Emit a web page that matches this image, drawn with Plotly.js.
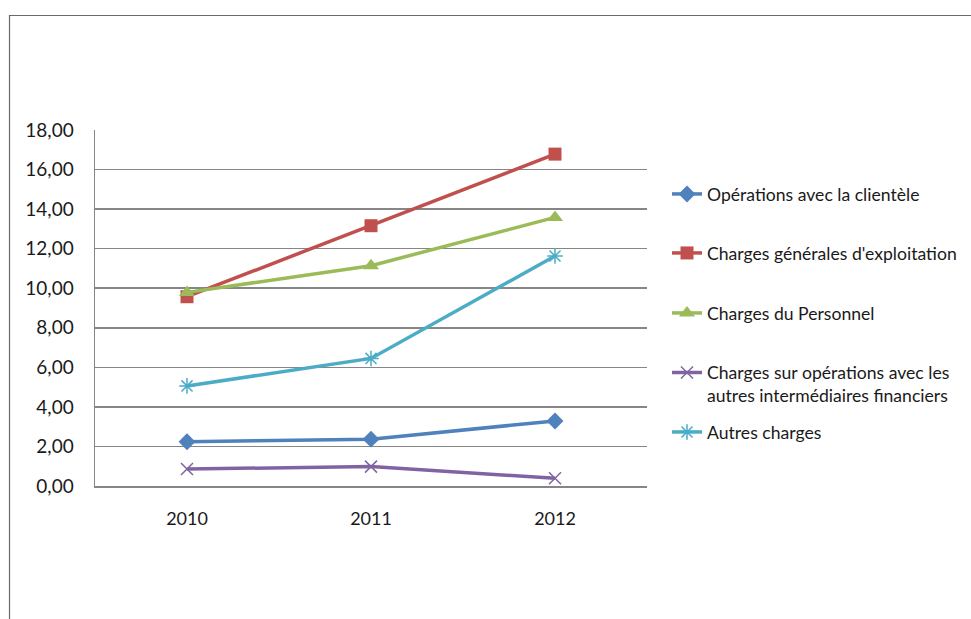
<!DOCTYPE html>
<html><head><meta charset="utf-8">
<script src="https://cdn.plot.ly/plotly-3.0.1.min.js"></script>
<style>html,body{margin:0;padding:0;background:#fff;}#chart{width:971px;height:619px;}</style>
</head><body><div id="chart"></div>
<script>
var years = ['2010', '2011', '2012'];
var seriesNames = [
  'Opérations avec la clientèle',
  "Charges générales d'exploitation",
  'Charges du Personnel',
  'Charges sur opérations avec les<br>autres intermédiaires financiers',
  'Autres charges'
];
var operationsClientele = [2.24, 2.37, 3.29];
var chargesGenerales = [9.57, 13.16, 16.78];
var chargesPersonnel = [9.79, 11.14, 13.58];
var chargesIntermediaires = [0.86, 0.98, 0.39];
var autresCharges = [5.06, 6.45, 11.63];
var yTicks = [0, 2, 4, 6, 8, 10, 12, 14, 16, 18];

var values = [operationsClientele, chargesGenerales, chargesPersonnel, chargesIntermediaires, autresCharges];
var colors = ['#4F81BD', '#C0504D', '#9BBB59', '#8064A2', '#4BACC6'];
var symbols = ['diamond', 'square', 'triangle-up', 'x-thin-open', 'asterisk-open'];
var sizes = [13, 13, 14, 12, 13];
var legendIds = ['legend', 'legend2', 'legend3', 'legend4', 'legend5'];

var traces = values.map(function (v, i) {
  var open = (symbols[i].indexOf('open') >= 0);
  return {
    type: 'scatter', mode: 'lines+markers',
    x: years, y: v, name: seriesNames[i],
    legend: legendIds[i],
    line: {color: colors[i], width: 3.5},
    marker: {symbol: symbols[i], size: sizes[i], color: colors[i],
             line: {color: colors[i], width: open ? 1.5 : 0}},
    hoverinfo: 'x+y'
  };
});

var legendFont = {family: 'Lato, "Open Sans", sans-serif', size: 17.6, color: '#1a1a1a'};
function leg(yCenter, valign) {
  return {x: 667 / 971, xref: 'container', xanchor: 'left',
          y: 1 - yCenter / 619, yref: 'container', yanchor: 'middle',
          font: legendFont, bgcolor: 'rgba(0,0,0,0)', borderwidth: 0,
          valign: valign || 'middle'};
}

var layout = {
  width: 971, height: 619,
  margin: {l: 95, r: 324, t: 130, b: 133},
  paper_bgcolor: '#ffffff', plot_bgcolor: '#ffffff',
  separators: ',.',
  showlegend: true,
  legend: leg(194), legend2: leg(253), legend3: leg(313),
  legend4: leg(384, 'top'), legend5: leg(432),
  xaxis: {
    type: 'category', range: [-0.5, 2.5], fixedrange: true,
    showline: true, linecolor: '#868686', linewidth: 1.5,
    showgrid: false, zeroline: false,
    ticks: 'outside', ticklen: 16, tickcolor: 'rgba(0,0,0,0)',
    tickfont: {family: 'Lato, "Open Sans", sans-serif', size: 18, color: '#1a1a1a'}
  },
  yaxis: {
    range: [0, 18], tickvals: yTicks, tickformat: '.2f', fixedrange: true,
    showline: true, linecolor: '#868686', linewidth: 1.5,
    showgrid: true, gridcolor: '#868686', gridwidth: 1.5, zeroline: false,
    ticks: 'outside', ticklen: 16, tickcolor: 'rgba(0,0,0,0)',
    tickfont: {family: 'Lato, "Open Sans", sans-serif', size: 19, color: '#1a1a1a'}
  },
  shapes: [{
    type: 'rect', xref: 'paper', yref: 'paper',
    x0: (9.5 - 95) / 552, x1: (975 - 95) / 552,
    y0: (486 - 640) / 356, y1: (486 - 15.5) / 356,
    line: {color: '#6a6a6a', width: 1.2}, fillcolor: 'rgba(0,0,0,0)', layer: 'below'
  }]
};

Plotly.newPlot('chart', traces, layout, {displayModeBar: false, staticPlot: true});
</script>
</body></html>
